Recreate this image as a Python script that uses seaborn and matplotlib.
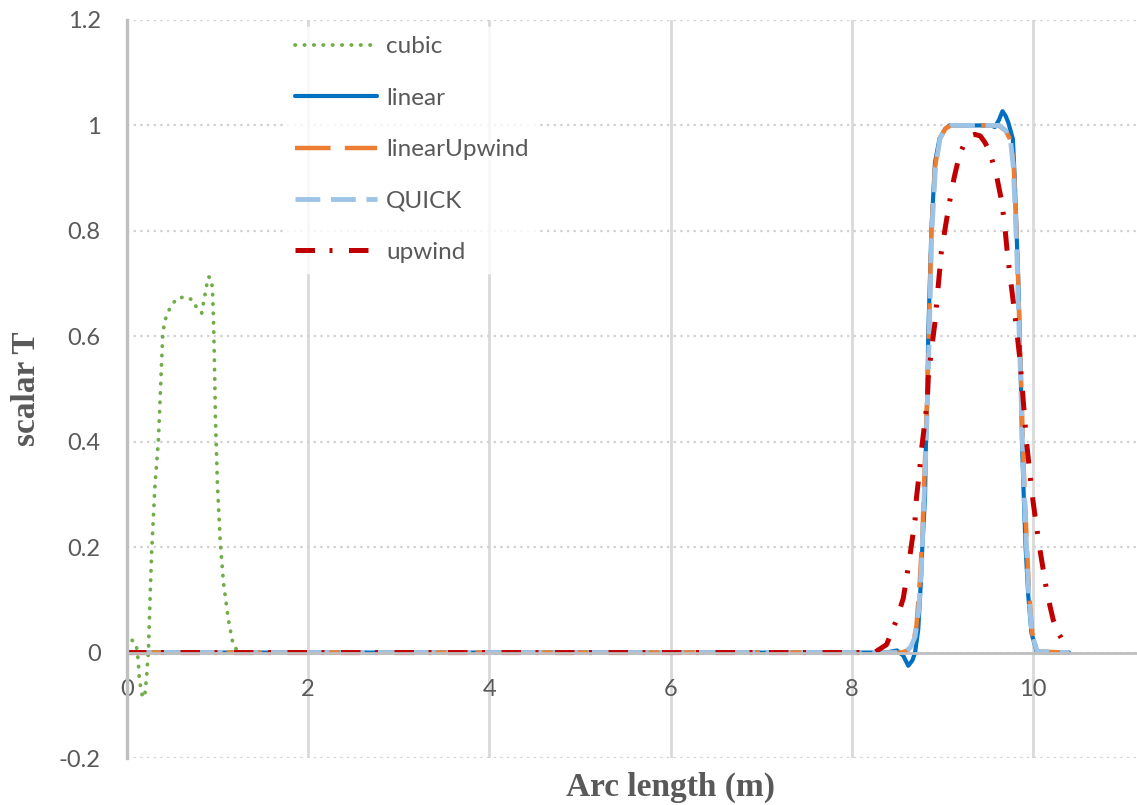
import matplotlib
matplotlib.use("Agg")
import matplotlib.pyplot as plt
import seaborn as sns

# --- data ---
cubic_x = [0.0, 0.044, 0.10, 0.125, 0.136, 0.155, 0.173, 0.199, 0.217, 0.228, 0.236,
           0.254, 0.273, 0.31, 0.346, 0.365, 0.383, 0.394, 0.413, 0.45, 0.486, 0.55,
           0.65, 0.733, 0.77, 0.825, 0.843, 0.86, 0.88, 0.90, 0.928, 0.943, 0.954,
           0.965, 0.976, 0.998, 1.028, 1.065, 1.12, 1.175, 1.25, 2.0, 4.0, 6.0, 8.0]
cubic_y = [0.012, 0.025, 0.017, -0.016, -0.051, -0.069, -0.086, -0.076, -0.045, -0.016, 0.0,
           0.10, 0.195, 0.321, 0.40, 0.479, 0.555, 0.60, 0.627, 0.645, 0.657, 0.672,
           0.675, 0.668, 0.653, 0.644, 0.662, 0.678, 0.697, 0.713, 0.71, 0.69, 0.637,
           0.555, 0.447, 0.321, 0.214, 0.132, 0.062, 0.012, 0.0, 0.0, 0.0, 0.0, 0.0]

linear_x = [0.0, 8.38, 8.50, 8.57, 8.625, 8.67, 8.70, 8.735, 8.765, 8.78, 8.81, 8.82,
            8.835, 8.845, 8.88, 8.92, 8.97, 9.03, 9.08, 9.30, 9.54, 9.58, 9.625, 9.665,
            9.70, 9.73, 9.78, 9.80, 9.82, 9.84, 9.855, 9.87, 9.88, 9.90, 9.92, 9.95,
            9.985, 10.04, 10.1, 10.4]
linear_y = [0.0, 0.0, 0.004, -0.006, -0.025, -0.015, 0.0, 0.044, 0.138, 0.2, 0.296, 0.40,
            0.479, 0.6, 0.8, 0.93, 0.975, 0.993, 1.0, 1.0, 1.0, 0.997, 1.01, 1.027,
            1.018, 1.005, 0.974, 0.898, 0.8, 0.703, 0.6, 0.5, 0.40, 0.296, 0.2, 0.107,
            0.037, 0.003, 0.0, 0.0]

lupw_x = [0.0, 8.40, 8.55, 8.62, 8.68, 8.715, 8.75, 8.78, 8.80, 8.82, 8.84, 8.855, 8.88,
          8.92, 8.97, 9.04, 9.10, 9.40, 9.62, 9.70, 9.76, 9.79, 9.81, 9.83, 9.85, 9.87,
          9.89, 9.91, 9.935, 9.96, 9.995, 10.05, 10.41]
lupw_y = [0.0, 0.0, 0.0, 0.004, 0.02, 0.05, 0.13, 0.22, 0.32, 0.42, 0.52, 0.62, 0.8,
          0.92, 0.975, 0.995, 1.0, 1.0, 1.0, 0.99, 0.97, 0.92, 0.84, 0.75, 0.63, 0.52,
          0.40, 0.30, 0.2, 0.11, 0.035, 0.002, 0.0]

quick_x = [0.0, 8.40, 8.58, 8.65, 8.70, 8.74, 8.77, 8.79, 8.81, 8.83, 8.845, 8.86, 8.885,
           8.925, 8.975, 9.04, 9.10, 9.40, 9.63, 9.70, 9.755, 9.785, 9.805, 9.825, 9.845,
           9.865, 9.885, 9.905, 9.93, 9.955, 9.99, 10.05, 10.4]
quick_y = [0.0, 0.0, 0.0, 0.01, 0.03, 0.08, 0.16, 0.25, 0.34, 0.44, 0.53, 0.63, 0.8,
           0.92, 0.975, 0.995, 1.0, 1.0, 1.0, 0.99, 0.97, 0.92, 0.84, 0.75, 0.63,
           0.52, 0.40, 0.30, 0.2, 0.11, 0.035, 0.002, 0.0]

upwind_x = [0.0, 8.25, 8.385, 8.495, 8.57, 8.625, 8.655, 8.70, 8.715, 8.75, 8.77, 8.81,
            8.835, 8.845, 8.88, 8.92, 8.94, 8.99, 9.04, 9.08, 9.13, 9.19, 9.25, 9.30,
            9.36, 9.42, 9.47, 9.525, 9.60, 9.655, 9.69, 9.715, 9.745, 9.78, 9.82, 9.855,
            9.885, 9.93, 9.97, 10.0, 10.03, 10.07, 10.115, 10.16, 10.225, 10.28, 10.335, 10.37]
upwind_y = [0.0, 0.0, 0.015, 0.062, 0.103, 0.163, 0.198, 0.252, 0.293, 0.346, 0.384, 0.44,
            0.479, 0.52, 0.573, 0.627, 0.666, 0.76, 0.813, 0.854, 0.90, 0.944, 0.968, 0.98,
            0.983, 0.98, 0.968, 0.95, 0.904, 0.857, 0.81, 0.764, 0.72, 0.671, 0.614, 0.56,
            0.498, 0.40, 0.335, 0.29, 0.252, 0.204, 0.157, 0.11, 0.062, 0.038, 0.021, 0.01]

x_ticks = [0, 2, 4, 6, 8, 10]
y_ticks = [-0.2, 0, 0.2, 0.4, 0.6, 0.8, 1, 1.2]
y_tick_labels = ["-0.2", "0", "0.2", "0.4", "0.6", "0.8", "1", "1.2"]

sns.set_theme(style="white")
plt.rcParams["font.family"] = ["Lato", "DejaVu Sans"]

fig = plt.figure(figsize=(11.37, 8.05), dpi=100)
# x axis runs 0..12, the right part falls outside the picture like in the reference
ax = fig.add_axes([127 / 1137, 47 / 805, 1087 / 1137, 738 / 805])

gray_txt = "#595959"

sns.lineplot(x=cubic_x, y=cubic_y, ax=ax, color="#70AD47", lw=2.7, label="cubic",
             linestyle=(0, (0.1, 2.4)), dash_capstyle="round", estimator=None, sort=False)
sns.lineplot(x=linear_x, y=linear_y, ax=ax, color="#0070C0", lw=3.0, label="linear",
             estimator=None, sort=False)
sns.lineplot(x=lupw_x, y=lupw_y, ax=ax, color="#ED7D31", lw=3.2, label="linearUpwind",
             linestyle=(0, (8, 3.2)), estimator=None, sort=False)
sns.lineplot(x=quick_x, y=quick_y, ax=ax, color="#9DC3E6", lw=3.5, label="QUICK",
             linestyle=(0, (5.1, 2.2)), estimator=None, sort=False)
sns.lineplot(x=upwind_x, y=upwind_y, ax=ax, color="#C00000", lw=3.6, label="upwind",
             linestyle=(0, (3.9, 2.9, 0.6, 3.3)), estimator=None, sort=False)

ax.set_xlim(0, 12)
ax.set_ylim(-0.2, 1.2)
ax.set_xticks(x_ticks)
ax.set_yticks(y_ticks)
ax.set_yticklabels(y_tick_labels)

# gridlines: solid vertical, dotted horizontal
ax.xaxis.grid(True, color="#d9d9d9", lw=2, linestyle="-")
ax.yaxis.grid(True, color="#d0d0d0", lw=1.6, linestyle=(0, (1, 2)))
ax.set_axisbelow(True)

for s in ["top", "right"]:
    ax.spines[s].set_visible(False)
ax.spines["left"].set_color("#bfbfbf")
ax.spines["left"].set_linewidth(2.4)
ax.spines["bottom"].set_position(("data", 0))
ax.spines["bottom"].set_color("#bfbfbf")
ax.spines["bottom"].set_linewidth(2)

ax.tick_params(axis="both", length=0, labelsize=17, labelcolor=gray_txt)
ax.tick_params(axis="x", pad=19)
ax.tick_params(axis="y", pad=19)

ax.set_xlabel("Arc length (m)", fontsize=24, fontweight="bold", color=gray_txt,
              family="Liberation Serif")
ax.xaxis.set_label_coords(0.5, -0.019)
ax.set_ylabel("scalar T", fontsize=24, fontweight="bold", color=gray_txt,
              family="Liberation Serif")
ax.yaxis.set_label_coords(-0.078, 0.5)

leg = ax.legend(loc="upper left", bbox_to_anchor=(0.1454, 0.991), borderaxespad=0,
                frameon=True, fontsize=17.5, handlelength=3.4, handletextpad=0.35,
                labelspacing=1.25, borderpad=0.4)
leg.get_frame().set_facecolor("white")
leg.get_frame().set_edgecolor("white")
for t in leg.get_texts():
    t.set_color(gray_txt)

fig.savefig("out.png", dpi=100)
